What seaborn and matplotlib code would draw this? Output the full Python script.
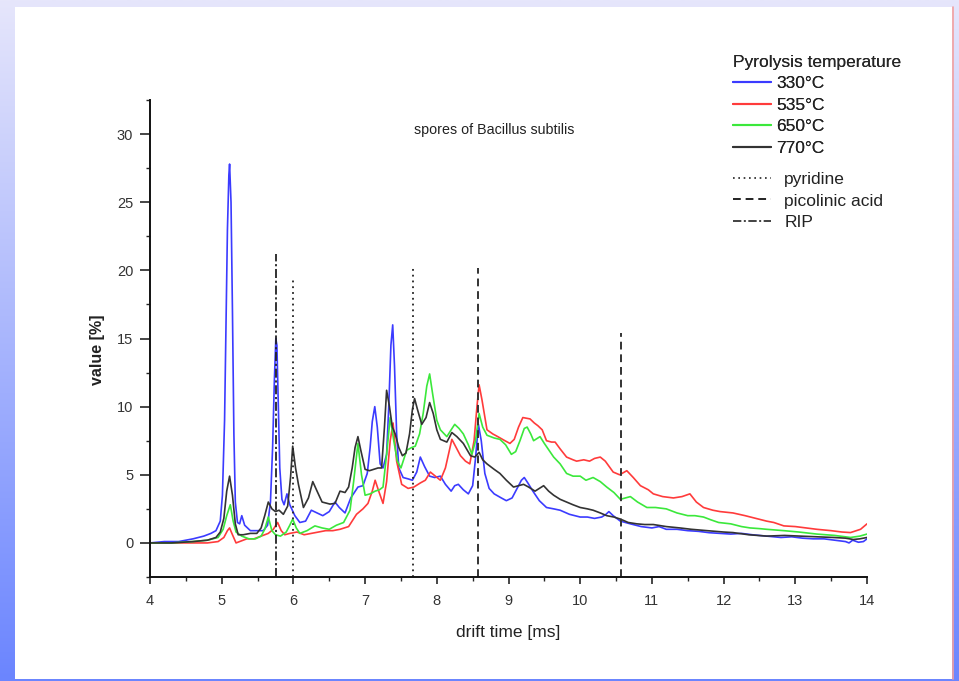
import numpy as np
import pandas as pd
import matplotlib
matplotlib.use("Agg")
import matplotlib.pyplot as plt
import seaborn as sns
from matplotlib.colors import LinearSegmentedColormap
from matplotlib.patches import Rectangle
from matplotlib.lines import Line2D
from matplotlib.ticker import MultipleLocator

# Spectra (drift time [ms], value [%])
curve_330 = [(4.0, 0.0), (4.2, 0.1), (4.4, 0.1), (4.6, 0.3), (4.75, 0.5), (4.85, 0.7), (4.92, 0.9),
             (4.98, 1.6), (5.01, 3.5), (5.04, 9.0), (5.06, 16.0), (5.08, 23.0), (5.10, 27.0),
             (5.11, 27.8), (5.13, 25.0), (5.15, 17.0), (5.17, 8.0), (5.19, 3.0),
             (5.22, 1.5), (5.25, 1.4), (5.28, 2.0), (5.32, 1.3), (5.4, 0.9), (5.5, 0.9), (5.58, 0.9),
             (5.64, 1.3), (5.68, 3.0), (5.71, 7.0), (5.735, 12.0), (5.755, 15.0), (5.77, 14.5),
             (5.79, 10.0), (5.81, 5.5), (5.84, 3.2), (5.87, 2.8), (5.91, 3.6), (5.95, 2.8),
             (6.02, 2.0), (6.09, 1.5), (6.17, 1.6), (6.25, 2.4), (6.33, 2.2), (6.41, 2.0),
             (6.5, 2.3), (6.58, 3.0), (6.64, 2.6), (6.72, 2.2), (6.8, 3.3), (6.9, 4.1),
             (6.97, 4.2), (7.03, 5.1), (7.07, 7.0), (7.1, 8.9), (7.135, 10.0), (7.17, 8.5),
             (7.21, 5.8), (7.25, 5.5), (7.3, 6.5), (7.33, 10.0), (7.36, 14.5), (7.385, 16.0),
             (7.41, 13.0), (7.44, 8.0), (7.47, 5.5), (7.53, 4.8), (7.6, 4.7), (7.66, 4.6),
             (7.72, 5.2), (7.77, 6.3), (7.83, 5.6), (7.9, 4.9), (7.97, 4.8), (8.05, 4.9),
             (8.12, 4.3), (8.2, 3.8), (8.25, 4.2), (8.3, 4.3), (8.37, 3.9), (8.44, 3.6),
             (8.5, 4.2), (8.54, 6.2), (8.58, 8.7), (8.62, 7.5), (8.67, 5.1), (8.73, 4.0),
             (8.8, 3.6), (8.9, 3.3), (8.97, 3.1), (9.05, 3.3), (9.12, 4.0), (9.18, 4.6),
             (9.22, 4.8), (9.27, 4.4), (9.34, 3.8), (9.43, 3.1), (9.53, 2.6), (9.63, 2.5),
             (9.72, 2.4), (9.85, 2.1), (10.0, 1.9), (10.1, 1.9), (10.2, 1.8), (10.3, 1.9),
             (10.36, 2.1), (10.4, 2.3), (10.46, 2.0), (10.56, 1.6), (10.7, 1.4), (10.85, 1.2),
             (11.0, 1.1), (11.1, 1.2), (11.2, 1.0), (11.35, 1.0), (11.5, 0.9), (11.65, 0.85),
             (11.8, 0.75), (11.95, 0.7), (12.1, 0.65), (12.25, 0.7), (12.4, 0.6), (12.6, 0.5),
             (12.8, 0.4), (12.95, 0.45), (13.1, 0.35), (13.25, 0.3), (13.4, 0.3), (13.55, 0.2),
             (13.7, 0.1), (13.75, 0.0), (13.8, 0.2), (13.88, 0.05), (13.95, 0.1), (14.0, 0.3)]

curve_535 = [(4.0, 0.0), (4.3, 0.0), (4.6, 0.0), (4.8, 0.0), (4.95, 0.1), (5.03, 0.4), (5.08, 0.9),
             (5.11, 1.1), (5.15, 0.6), (5.2, 0.0), (5.25, 0.1), (5.35, 0.3), (5.45, 0.3),
             (5.55, 0.5), (5.65, 0.7), (5.72, 1.0), (5.78, 1.5), (5.83, 0.9), (5.88, 0.6),
             (5.95, 0.7), (6.05, 0.8), (6.15, 0.6), (6.25, 0.7), (6.35, 0.8), (6.45, 0.9),
             (6.55, 0.9), (6.65, 1.0), (6.77, 1.2), (6.88, 2.1), (6.97, 2.5), (7.04, 2.9),
             (7.1, 3.8), (7.14, 4.6), (7.19, 3.8), (7.25, 2.9), (7.3, 4.5), (7.35, 7.5),
             (7.39, 8.8), (7.44, 6.0), (7.51, 4.3), (7.6, 4.0), (7.68, 4.1), (7.77, 4.4),
             (7.84, 4.6), (7.91, 5.2), (7.98, 4.9), (8.05, 4.6), (8.12, 5.5), (8.21, 7.6),
             (8.27, 7.0), (8.33, 6.4), (8.4, 6.0), (8.46, 5.8), (8.52, 7.5), (8.56, 10.0),
             (8.59, 11.6), (8.63, 10.5), (8.7, 8.3), (8.78, 8.0), (8.85, 7.8), (8.95, 7.5),
             (9.02, 7.3), (9.08, 7.6), (9.14, 8.5), (9.2, 9.2), (9.3, 9.1), (9.36, 8.8),
             (9.41, 8.6), (9.47, 8.3), (9.53, 7.5), (9.6, 7.4), (9.65, 7.4), (9.72, 6.9),
             (9.81, 6.3), (9.9, 6.1), (9.95, 6.0), (10.05, 6.1), (10.13, 6.0), (10.2, 6.2),
             (10.28, 6.3), (10.35, 6.0), (10.46, 5.2), (10.55, 5.0), (10.65, 5.3), (10.74, 4.8),
             (10.84, 4.2), (10.95, 3.9), (11.02, 3.6), (11.15, 3.4), (11.3, 3.3), (11.42, 3.4),
             (11.53, 3.6), (11.62, 3.0), (11.72, 2.6), (11.85, 2.4), (11.95, 2.3), (12.13, 2.2),
             (12.3, 2.0), (12.45, 1.8), (12.6, 1.6), (12.7, 1.5), (12.84, 1.25), (13.0, 1.2),
             (13.15, 1.1), (13.3, 1.0), (13.5, 0.9), (13.65, 0.8), (13.77, 0.76), (13.91, 1.0),
             (14.0, 1.4)]

curve_650 = [(4.0, 0.0), (4.3, 0.0), (4.6, 0.1), (4.8, 0.2), (4.95, 0.4), (5.02, 1.0), (5.07, 2.0),
             (5.12, 2.8), (5.16, 1.6), (5.2, 0.8), (5.28, 0.5), (5.38, 0.3), (5.47, 0.3),
             (5.55, 0.5), (5.6, 1.0), (5.65, 1.9), (5.7, 0.9), (5.75, 0.6), (5.82, 0.5),
             (5.9, 0.8), (5.95, 1.3), (5.99, 1.75), (6.04, 1.1), (6.09, 0.7), (6.19, 0.9),
             (6.3, 1.25), (6.4, 1.1), (6.5, 1.0), (6.6, 1.3), (6.7, 1.5), (6.79, 2.4),
             (6.84, 4.5), (6.9, 7.3), (6.95, 5.0), (7.0, 3.5), (7.07, 3.6), (7.14, 3.8),
             (7.2, 3.9), (7.25, 4.1), (7.3, 6.5), (7.35, 9.2), (7.4, 7.5), (7.45, 6.0),
             (7.5, 5.5), (7.58, 6.8), (7.65, 7.0), (7.7, 7.1), (7.76, 8.0), (7.81, 9.5),
             (7.86, 11.5), (7.9, 12.4), (7.94, 11.0), (8.0, 9.0), (8.05, 8.3), (8.14, 7.8),
             (8.2, 8.3), (8.25, 8.7), (8.31, 8.4), (8.37, 8.0), (8.44, 7.2), (8.49, 6.5),
             (8.54, 7.5), (8.59, 9.5), (8.64, 8.5), (8.7, 7.9), (8.8, 7.7), (8.88, 7.6),
             (8.96, 7.2), (9.04, 6.5), (9.1, 6.7), (9.16, 7.5), (9.22, 8.4), (9.26, 8.5),
             (9.31, 8.0), (9.35, 7.5), (9.44, 7.8), (9.5, 7.3), (9.63, 6.3), (9.72, 5.8),
             (9.81, 5.1), (9.9, 4.9), (10.0, 4.9), (10.08, 4.6), (10.18, 4.8), (10.28, 4.5),
             (10.37, 4.1), (10.47, 3.7), (10.56, 3.2), (10.63, 3.3), (10.7, 3.4), (10.8, 3.0),
             (10.93, 2.6), (11.05, 2.6), (11.2, 2.5), (11.35, 2.2), (11.5, 2.0), (11.6, 2.0),
             (11.72, 1.9), (11.82, 1.7), (11.93, 1.5), (12.1, 1.4), (12.25, 1.2), (12.37, 1.1),
             (12.5, 1.05), (12.6, 1.0), (12.84, 0.9), (13.05, 0.8), (13.3, 0.65), (13.55, 0.55),
             (13.77, 0.4), (13.9, 0.5), (14.0, 0.65)]

curve_770 = [(4.0, 0.0), (4.3, 0.0), (4.6, 0.1), (4.8, 0.2), (4.92, 0.4), (4.98, 0.8), (5.03, 1.8),
             (5.07, 3.8), (5.11, 4.9), (5.15, 3.5), (5.19, 1.4), (5.23, 0.6), (5.3, 0.6),
             (5.4, 0.7), (5.49, 0.7), (5.55, 1.1), (5.6, 2.0), (5.65, 3.0), (5.7, 2.5),
             (5.75, 2.3), (5.8, 2.4), (5.86, 2.1), (5.92, 2.7), (5.96, 4.8), (5.99, 7.1),
             (6.03, 5.5), (6.07, 4.3), (6.14, 2.6), (6.21, 3.3), (6.27, 4.5), (6.33, 3.8),
             (6.4, 3.0), (6.51, 2.85), (6.58, 2.9), (6.65, 3.8), (6.72, 3.7), (6.77, 4.1),
             (6.82, 5.5), (6.86, 7.0), (6.9, 7.8), (6.94, 6.8), (7.0, 5.4), (7.06, 5.3),
             (7.12, 5.4), (7.18, 5.5), (7.23, 5.5), (7.27, 8.5), (7.3, 11.2), (7.34, 10.0),
             (7.38, 8.5), (7.42, 8.0), (7.47, 7.0), (7.52, 6.4), (7.57, 6.6), (7.62, 8.0),
             (7.66, 9.8), (7.69, 10.6), (7.73, 9.8), (7.79, 8.7), (7.85, 9.2), (7.9, 10.3),
             (7.95, 9.5), (8.0, 8.3), (8.05, 7.6), (8.14, 7.4), (8.21, 8.1), (8.28, 7.8),
             (8.37, 7.3), (8.47, 6.4), (8.53, 6.3), (8.59, 6.65), (8.64, 6.1), (8.7, 5.8),
             (8.8, 5.4), (8.88, 5.1), (8.97, 4.6), (9.07, 4.1), (9.14, 4.2), (9.21, 4.3),
             (9.28, 4.1), (9.37, 3.8), (9.43, 4.0), (9.49, 4.2), (9.56, 3.8), (9.63, 3.5),
             (9.72, 3.2), (9.81, 3.0), (9.9, 2.8), (10.0, 2.6), (10.1, 2.5), (10.18, 2.4),
             (10.28, 2.2), (10.37, 2.0), (10.47, 1.9), (10.56, 1.75), (10.67, 1.5), (10.79, 1.4),
             (10.9, 1.35), (11.02, 1.35), (11.2, 1.2), (11.39, 1.1), (11.55, 1.0), (11.77, 0.9),
             (12.0, 0.8), (12.13, 0.76), (12.35, 0.6), (12.6, 0.5), (12.85, 0.55), (13.07, 0.5),
             (13.3, 0.45), (13.53, 0.4), (13.7, 0.35), (13.81, 0.25), (13.9, 0.3), (14.0, 0.4)]

temps = ["330°C", "535°C", "650°C", "770°C"]
curves = [curve_330, curve_535, curve_650, curve_770]
colors = ["#3b3bff", "#ff3b3b", "#3be83b", "#333333"]

# marker lines: position [ms] and top of the line [%]
pyridine_t = [5.99, 7.67]
pyridine_top = [19.5, 20.2]
picolinic_t = [8.57, 10.57]
picolinic_top = [20.2, 15.4]
rip_t = [5.76]
rip_top = [21.2]

rows = []
for name, curve in zip(temps, curves):
    for t, v in curve:
        rows.append({"temp": name, "drift": t, "value": v})
df = pd.DataFrame(rows)

sns.set_theme(style="ticks")
plt.rcParams["font.family"] = ["Liberation Sans", "DejaVu Sans"]

W, H = 959, 681
fig = plt.figure(figsize=(W / 100, H / 100), dpi=100)

# slide-like background: gradient frame with white panel
bg = fig.add_axes([0, 0, 1, 1], zorder=-10)
grad = np.linspace(0, 1, 256).reshape(-1, 1)
cmap = LinearSegmentedColormap.from_list("bg", ["#e6e6fb", "#6b85ff"])
bg.imshow(grad, aspect="auto", cmap=cmap, extent=[0, 1, 0, 1], origin="upper")
bg.add_patch(Rectangle((15 / W, 2 / H), 937 / W, 672 / H, facecolor="white", edgecolor="none"))
bg.plot([952.5 / W] * 2, [2 / H, 674 / H], color="#f2a0a0", lw=1.2)
bg.set_xlim(0, 1)
bg.set_ylim(0, 1)
bg.axis("off")

ax = fig.add_axes([150 / W, 1 - 577 / H, 717 / W, 477 / H])
ax.patch.set_alpha(0)

sns.lineplot(data=df, x="drift", y="value", hue="temp", palette=colors,
             estimator=None, sort=False, lw=1.2, legend=False, ax=ax)

ymin = -2.5
for t, top in zip(pyridine_t, pyridine_top):
    ax.plot([t, t], [ymin, top], color="#222222", lw=1.3, linestyle=(0, (1, 2.2)))
for t, top in zip(picolinic_t, picolinic_top):
    ax.plot([t, t], [ymin, top], color="#333333", lw=1.4, linestyle=(0, (4, 2.5)))
for t, top in zip(rip_t, rip_top):
    ax.plot([t, t], [ymin, top], color="#222222", lw=1.3, linestyle=(0, (5, 1.5, 1.2, 1.5)))

ax.set_xlim(4, 14)
ax.set_ylim(-2.5, 32.5)
ax.xaxis.set_major_locator(MultipleLocator(1))
ax.xaxis.set_minor_locator(MultipleLocator(0.5))
ax.yaxis.set_major_locator(MultipleLocator(5))
ax.yaxis.set_minor_locator(MultipleLocator(2.5))
ax.set_yticks([0, 5, 10, 15, 20, 25, 30])

for side in ["top", "right"]:
    ax.spines[side].set_visible(False)
for side in ["left", "bottom"]:
    ax.spines[side].set_linewidth(1.4)
    ax.spines[side].set_color("#111111")

ax.tick_params(axis="x", which="major", length=5, width=1.2, pad=7, labelsize=10.5, labelcolor="#333333")
ax.tick_params(axis="x", which="minor", length=3, width=1.0)
ax.tick_params(axis="y", which="major", length=7, width=1.2, pad=5, labelsize=10.5, labelcolor="#333333")
ax.tick_params(axis="y", which="minor", length=3, width=1.0)

ax.set_xlabel("drift time [ms]", fontsize=12.5, color="#222222")
ax.set_ylabel("value [%]", fontsize=11.5, fontweight="bold", color="#222222")
ax.xaxis.set_label_coords((508 - 150) / 717, (577 - 625) / 477)
ax.yaxis.set_label_coords((105 - 150) / 717, (577 - 350) / 477)

ax.text((494 - 150) / 717, (577 - 130) / 477, "spores of Bacillus subtilis",
        transform=ax.transAxes, ha="center", va="center", fontsize=10.3, color="#222222")

temp_handles = [Line2D([], [], color=c, lw=1.5) for c in colors]
leg1 = fig.legend(temp_handles, temps, loc="upper left", bbox_to_anchor=(733 / W, 1 - 55 / H),
                  frameon=False, title="Pyrolysis temperature", fontsize=12.5, title_fontsize=12.5,
                  handlelength=2.2, handletextpad=0.3, labelspacing=0.36,
                  borderaxespad=0, borderpad=0, alignment="left")
for txt in leg1.get_texts():
    txt.set_color("#222222")

ref_handles = [Line2D([], [], color="#222222", lw=1.2, linestyle=(0, (1, 2.2))),
               Line2D([], [], color="#222222", lw=1.4, linestyle=(0, (4, 2.5))),
               Line2D([], [], color="#222222", lw=1.2, linestyle=(0, (5, 1.5, 1.2, 1.5)))]
leg2 = fig.legend(ref_handles, ["pyridine", "picolinic acid", "RIP"], loc="upper left",
                  bbox_to_anchor=(733 / W, 1 - 172 / H), frameon=False, fontsize=12.5,
                  handlelength=2.2, handletextpad=0.75, labelspacing=0.36,
                  borderaxespad=0, borderpad=0)
for txt in leg2.get_texts():
    txt.set_color("#222222")
fig.add_artist(leg1)

plt.savefig("out.png", dpi=100)
